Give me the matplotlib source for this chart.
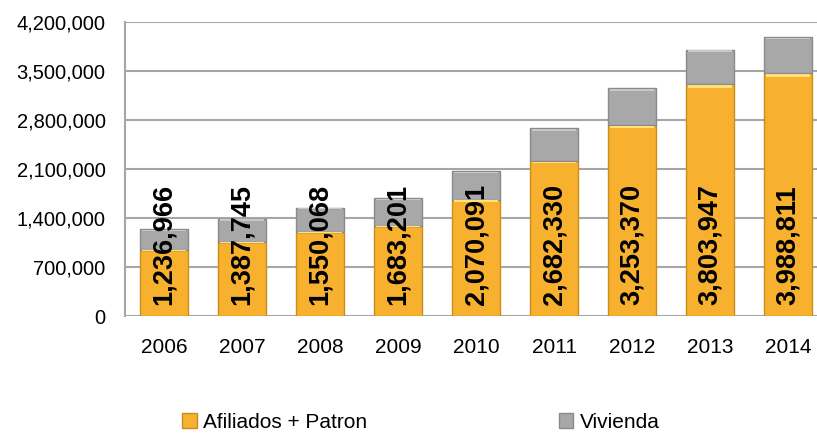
import matplotlib.pyplot as plt
import numpy as np

#Data
years = ["2006", "2007", "2008", "2009", "2010", "2011", "2012", "2013", "2014"]
afiliados = [943000, 1057000, 1200000, 1286000, 1657000, 2214000, 2729000, 3314000, 3471000]
vivienda = [294000, 331000, 350000, 397000, 413000, 468000, 524000, 490000, 518000]
totales = [1236966, 1387745, 1550068, 1683201, 2070091, 2682330, 3253370, 3803947, 3988811]
yticks = [0, 700000, 1400000, 2100000, 2800000, 3500000, 4200000]

plt.rcParams['font.family'] = ['Liberation Sans', 'DejaVu Sans']

fig = plt.figure(figsize=(8.17, 4.33), dpi=100)
ax = fig.add_axes([0.153, 0.270, 0.847, 0.679])

x = np.arange(len(years))
ancho = 0.615
b1 = ax.bar(x, afiliados, ancho, color='#F7B12E', edgecolor='#C98E1C', linewidth=1, label='Afiliados + Patron', zorder=3)
b2 = ax.bar(x, vivienda, ancho, bottom=afiliados, color='#A8A8A8', edgecolor='#8A8A8A', linewidth=1, label='Vivienda', zorder=3)

#light strip at the top of each segment (bevel look)
ax.bar(x, [a * 0.012 for a in afiliados], ancho * 0.92, bottom=[a * 0.985 for a in afiliados], color='#FFE07A', linewidth=0, zorder=4)
ax.bar(x, [v * 0.05 for v in vivienda], ancho * 0.92, bottom=[a + v * 0.93 for a, v in zip(afiliados, vivienda)], color='#C8C8C8', linewidth=0, zorder=4)

for i in range(len(years)):
	ax.text(x[i], 160000, "{:,}".format(totales[i]), rotation=90, ha='center', va='bottom',
		fontsize=19.5, fontweight='bold', color='black', zorder=5)

ax.set_ylim(0, 4200000)
ax.set_xlim(-0.5, 8.37)
ax.set_yticks(yticks)
ax.set_yticklabels(["{:,}".format(t) for t in yticks], fontsize=14.5)
ax.set_xticks(x)
ax.set_xticklabels(years, fontsize=15)
ax.tick_params(length=0)
ax.tick_params(axis='x', pad=16)
ax.tick_params(axis='y', pad=14)
ax.yaxis.grid(True, color='#A6A6A6', linewidth=1.5, zorder=0)
for s in ['top', 'right', 'bottom']:
	ax.spines[s].set_visible(False)
ax.spines['left'].set_color('#A6A6A6')
ax.spines['left'].set_linewidth(1.5)

fig.legend(handles=[b1, b2], loc='center', bbox_to_anchor=(0.515, 0.025), ncol=2, frameon=False,
	fontsize=15, columnspacing=9.2, handlelength=0.7, handleheight=0.7, handletextpad=0.3)

plt.savefig('out.png', dpi=100)
